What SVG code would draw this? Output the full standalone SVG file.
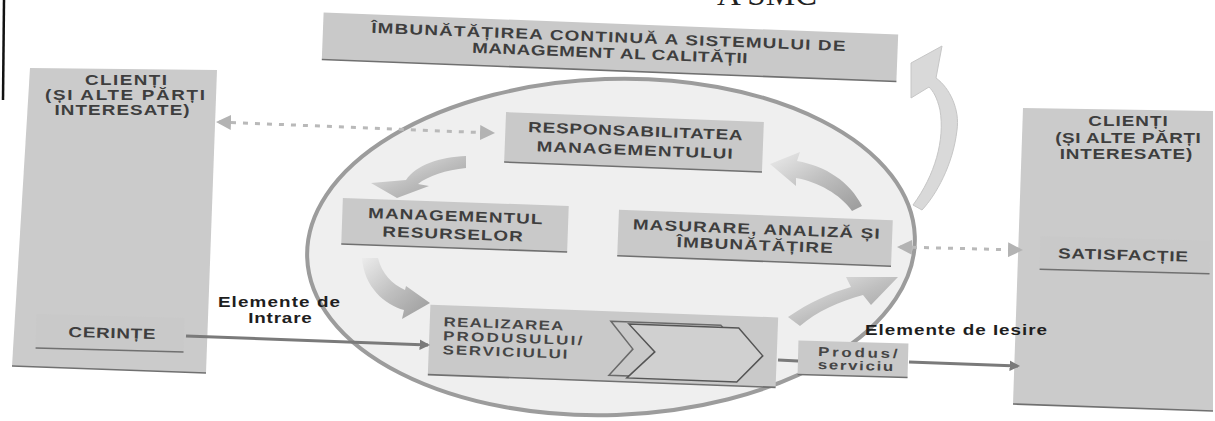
<svg xmlns="http://www.w3.org/2000/svg" width="1215" height="421" viewBox="0 0 1215 421">
<style>
.box{fill:#c9c9c9}
.big{fill:#cbcbcb}
.edge{stroke:#707070;stroke-width:1.6;fill:none}
.t{font-family:"Liberation Sans",Arial,sans-serif;font-weight:bold;font-size:14.5px;fill:#3e3e3e;text-anchor:middle}
.ts{font-family:"Liberation Sans",Arial,sans-serif;font-weight:bold;font-size:13px;fill:#454545}
.lbl{font-family:"Liberation Sans",Arial,sans-serif;font-weight:bold;font-size:14.5px;fill:#1e1e1e;text-anchor:middle}
.dash{stroke:#b9b9b9;stroke-width:3;stroke-dasharray:5 7;fill:none}
.solid{stroke:#7a7a7a;stroke-width:3;fill:none}
.rib{fill:url(#gRib)}
</style>
<defs>
<linearGradient id="gRib" x1="0" y1="0" x2="1" y2="1">
<stop offset="0" stop-color="#ececec"/>
<stop offset="0.5" stop-color="#bfbfbf"/>
<stop offset="1" stop-color="#9a9a9a"/>
</linearGradient>
<linearGradient id="gBig" x1="0" y1="0" x2="1" y2="0">
<stop offset="0" stop-color="#dcdcdc"/>
<stop offset="0.6" stop-color="#cacaca"/>
<stop offset="1" stop-color="#d4d4d4"/>
</linearGradient>
<marker id="ahL" viewBox="0 0 10 10" refX="8" refY="5" markerWidth="5" markerHeight="5" orient="auto-start-reverse" markerUnits="strokeWidth">
<path d="M0,0 L10,5 L0,10 Z" fill="#b3b3b3"/>
</marker>
<marker id="ahD" viewBox="0 0 10 10" refX="8" refY="5" markerWidth="3.5" markerHeight="3.5" orient="auto" markerUnits="strokeWidth">
<path d="M0,0 L10,5 L0,10 Z" fill="#7a7a7a"/>
</marker>
</defs>
<rect width="1215" height="421" fill="#ffffff"/>
<line x1="4" y1="0" x2="3" y2="100" stroke="#111" stroke-width="2.5"/>
<text x="817" y="5" font-family="Liberation Serif,serif" font-size="33" fill="#222" text-anchor="end">A SMC</text>

<g id="ellipse">
<ellipse cx="611" cy="247" rx="304" ry="168" transform="rotate(-2 611 247)" fill="#efefef" stroke="#9c9c9c" stroke-width="4"/>
</g>

<g id="n-clienti-left">
<polygon class="big" points="30,68 217,70 206,373 12,366" fill="url(#gBig)"/>
<line class="edge" x1="12" y1="366" x2="206" y2="373"/>
<text class="t" font-size="15" transform="translate(126 85) scale(1.3 1)" textLength="63" lengthAdjust="spacing">CLIENȚI</text>
<text class="t" font-size="15" transform="translate(125 100) scale(1.3 1)" textLength="123" lengthAdjust="spacing">(ȘI ALTE PĂRȚI</text>
<text class="t" font-size="15" transform="translate(122 115) scale(1.3 1)" textLength="104" lengthAdjust="spacing">INTERESATE)</text>
</g>

<g id="n-cerinte" transform="rotate(1.5 110 333)">
<rect class="box" x="36" y="316" width="148" height="34" fill="#c2c2c2"/>
<line class="edge" x1="36" y1="350" x2="184" y2="350"/>
<text class="t" font-size="15" transform="translate(112 338) scale(1.3 1)" textLength="67" lengthAdjust="spacing">CERINȚE</text>
</g>

<g id="n-imbunatatire" transform="rotate(2.2 610 47)">
<rect class="box" x="322.5" y="23.5" width="575" height="47"/>
<line class="edge" x1="322.5" y1="70.5" x2="897.5" y2="70.5"/>
<text class="t" transform="translate(608 42) scale(1.3 1)" textLength="365" lengthAdjust="spacing">ÎMBUNĂTĂȚIREA CONTINUĂ A SISTEMULUI DE</text>
<text class="t" transform="translate(610 58) scale(1.3 1)" textLength="212" lengthAdjust="spacing">MANAGEMENT AL CALITĂȚII</text>
</g>

<g id="n-responsabilitate" transform="rotate(2.2 634 142)">
<rect class="box" x="505" y="117" width="258" height="50"/>
<line class="edge" x1="505" y1="167" x2="763" y2="167"/>
<text class="t" transform="translate(635 136) scale(1.3 1)" textLength="165" lengthAdjust="spacing">RESPONSABILITATEA</text>
<text class="t" transform="translate(635 155) scale(1.3 1)" textLength="151" lengthAdjust="spacing">MANAGEMENTULUI</text>
</g>

<g id="n-resurse" transform="rotate(2 455 225)">
<rect class="box" x="342" y="202" width="226" height="46"/>
<line class="edge" x1="342" y1="248" x2="568" y2="248"/>
<text class="t" transform="translate(455 221) scale(1.3 1)" textLength="134" lengthAdjust="spacing">MANAGEMENTUL</text>
<text class="t" transform="translate(453 239) scale(1.3 1)" textLength="108" lengthAdjust="spacing">RESURSELOR</text>
</g>

<g id="n-masurare" transform="rotate(2.2 755 238)">
<rect class="box" x="618" y="215" width="274" height="46"/>
<line class="edge" x1="618" y1="261" x2="892" y2="261"/>
<text class="t" transform="translate(756 234) scale(1.3 1)" textLength="190" lengthAdjust="spacing">MASURARE, ANALIZĂ ȘI</text>
<text class="t" transform="translate(755 250) scale(1.3 1)" textLength="120" lengthAdjust="spacing">ÎMBUNĂTĂȚIRE</text>
</g>

<g id="n-realizare" transform="rotate(2.1 603 346)">
<rect class="box" x="429" y="311" width="348" height="70"/>
<line class="edge" x1="429" y1="381" x2="777" y2="381"/>
<text class="ts" transform="translate(443 332) scale(1.3 1)" textLength="92" lengthAdjust="spacing">REALIZAREA</text>
<text class="ts" transform="translate(443 346) scale(1.3 1)" textLength="107" lengthAdjust="spacing">PRODUSULUI/</text>
<text class="ts" transform="translate(443 360) scale(1.3 1)" textLength="96" lengthAdjust="spacing">SERVICIULUI</text>
<polygon points="610,321 720,321 745,348 720,375 610,375 633,348" fill="none" stroke="#6a6a6a" stroke-width="1.5"/>
<polygon points="628,323 738,323 763,350 738,377 628,377 655,350" fill="#d0d0d0" stroke="#555" stroke-width="1.5"/>
</g>

<g id="n-produs" transform="rotate(1.5 853 359)">
<rect class="box" x="798" y="342" width="110" height="34" fill="#bfbfbf"/>
<line class="edge" x1="798" y1="376" x2="908" y2="376"/>
<text class="ts" font-size="14" fill="#555" transform="translate(818 357) scale(1.3 1)" textLength="61" lengthAdjust="spacing">Produs/</text>
<text class="ts" font-size="14" fill="#555" transform="translate(818 370) scale(1.3 1)" textLength="58" lengthAdjust="spacing">serviciu</text>
</g>

<g id="n-clienti-right">
<polygon class="big" points="1023,108 1213,111 1213,411 1013,404"/>
<line class="edge" x1="1013" y1="404" x2="1213" y2="411"/>
<text class="t" font-size="15" transform="translate(1128 126) scale(1.3 1)" textLength="61" lengthAdjust="spacing">CLIENȚI</text>
<text class="t" font-size="15" transform="translate(1128 143) scale(1.3 1)" textLength="112" lengthAdjust="spacing">(ȘI ALTE PĂRȚI</text>
<text class="t" font-size="15" transform="translate(1126 159) scale(1.3 1)" textLength="102" lengthAdjust="spacing">INTERESATE)</text>
</g>

<g id="n-satisfactie" transform="rotate(1.5 1125 255)">
<rect class="box" x="1040" y="238.5" width="170" height="33" fill="#bdbdbd"/>
<line class="edge" x1="1040" y1="271.5" x2="1210" y2="271.5"/>
<text class="t" transform="translate(1123 260) scale(1.3 1)" textLength="100" lengthAdjust="spacing">SATISFACȚIE</text>
</g>

<g id="connectors">
<path class="dash" d="M219,122 L492,133" marker-start="url(#ahL)" marker-end="url(#ahL)"/>
<path class="dash" d="M900,247 L1020,250" marker-start="url(#ahL)" marker-end="url(#ahL)"/>
<path class="solid" d="M186,336 L428,345" marker-end="url(#ahD)"/>
<path class="solid" d="M909,362 L1018,366" marker-end="url(#ahD)"/>
<path class="solid" d="M778,360 L798,361"/>
<path class="rib" d="M466,156 C440,157 416,165 406,180 L371,183 L397,198 L429,186 L418,184 C428,176 446,170 466,168 Z"/>
<path class="rib" d="M362,258 L378,258 C382,274 392,284 405,290 L406,286 L430,303 L402,319 L404,310 C385,305 364,287 362,258 Z"/>
<path class="rib" d="M788,317 C810,302 830,293 851,287 L846,277 L898,277 L871,305 L863,295 C840,301 816,312 800,326 Z"/>
<path class="rib" d="M862,206 C850,182 826,166 797,161 L800,152 L770,164 L796,186 L796,178 C818,182 840,194 852,211 Z"/>
<path d="M913,205 C935,175 945,140 940,110 C937,97 933,91 929,87 L911,98 L911,63 L942,46 L936,78 C950,88 960,110 957,130 C953,165 936,195 922,210 Z" fill="#d9d9d9" stroke="#c6c6c6" stroke-width="1"/>
</g>

<g id="labels">
<text class="lbl" transform="translate(279 307) scale(1.3 1)" textLength="94" lengthAdjust="spacing">Elemente de</text>
<text class="lbl" transform="translate(280 323) scale(1.3 1)" textLength="49" lengthAdjust="spacing">Intrare</text>
<text class="lbl" transform="translate(956 335) scale(1.3 1)" textLength="140" lengthAdjust="spacing">Elemente de Iesire</text>
</g>
</svg>
